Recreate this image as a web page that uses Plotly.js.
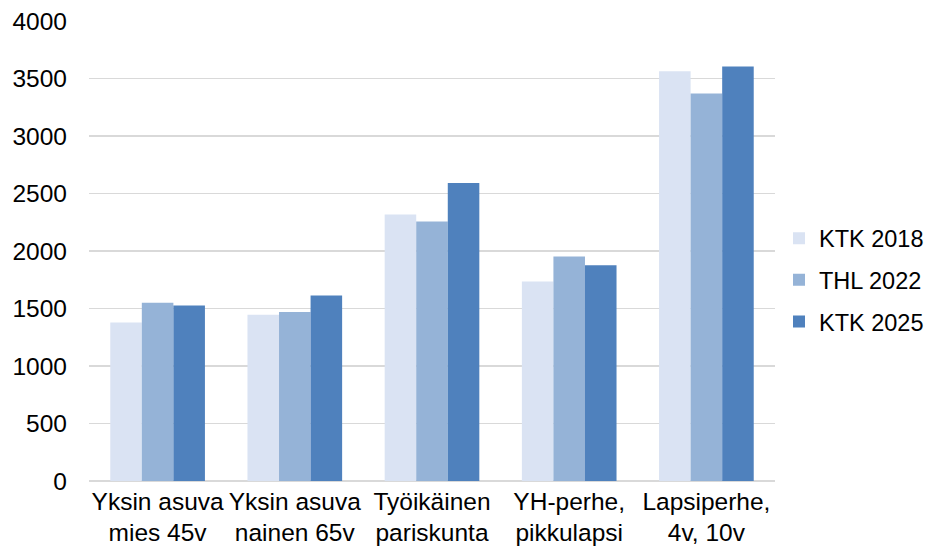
<!DOCTYPE html>
<html>
<head>
<meta charset="utf-8">
<script src="https://cdn.plot.ly/plotly-3.0.1.min.js"></script>
<style>html,body{margin:0;padding:0;background:#fff;}#chart{width:929px;height:549px;}</style>
</head>
<body>
<div id="chart"></div>
<script>
const categories = ["Yksin asuva<br>mies 45v", "Yksin asuva<br>nainen 65v", "Työikäinen<br>pariskunta", "YH-perhe,<br>pikkulapsi", "Lapsiperhe,<br>4v, 10v"];
const seriesNames = ["KTK 2018", "THL 2022", "KTK 2025"];
const ktk2018 = [1378, 1445, 2318, 1734, 3562];
const thl2022 = [1551, 1469, 2257, 1953, 3370];
const ktk2025 = [1527, 1612, 2592, 1877, 3605];
const colors = ["#DAE3F3", "#95B3D7", "#4F81BD"];
const values = [ktk2018, thl2022, ktk2025];

const traces = values.map((v, i) => ({
  type: "bar",
  name: seriesNames[i],
  x: categories,
  y: v,
  marker: {color: colors[i], line: {width: 0}},
  legendgroup: "g" + i,
  hoverinfo: "x+y+name"
}));

const layout = {
  width: 929, height: 549,
  margin: {l: 89, r: 154, t: 21, b: 68, pad: 0},
  paper_bgcolor: "#ffffff", plot_bgcolor: "#ffffff",
  font: {family: "Liberation Sans, Arial, sans-serif", size: 24.5, color: "#000000"},
  barmode: "group",
  bargap: 0.31,
  bargroupgap: 0,
  xaxis: {showgrid: false, showline: false, zeroline: false, ticks: "", ticklabelstandoff: 3, tickfont: {size: 24.5}},
  yaxis: {range: [0, 4000], dtick: 500, tick0: 0, showgrid: true, gridcolor: "#D9D9D9", gridwidth: 1.5,
          zeroline: true, zerolinecolor: "#D9D9D9", zerolinewidth: 1.5, showline: false,
          ticks: "", ticklabelstandoff: 21, tickfont: {size: 24.5}},
  legend: {xref: "container", yref: "container", x: 779 / 929, xanchor: "left", y: 1 - 280 / 549, yanchor: "middle",
           traceorder: "grouped", tracegroupgap: 8, font: {size: 23.5}, itemwidth: 30},
  showlegend: true
};

Plotly.newPlot("chart", traces, layout, {displayModeBar: false, staticPlot: true});
</script>
</body>
</html>
